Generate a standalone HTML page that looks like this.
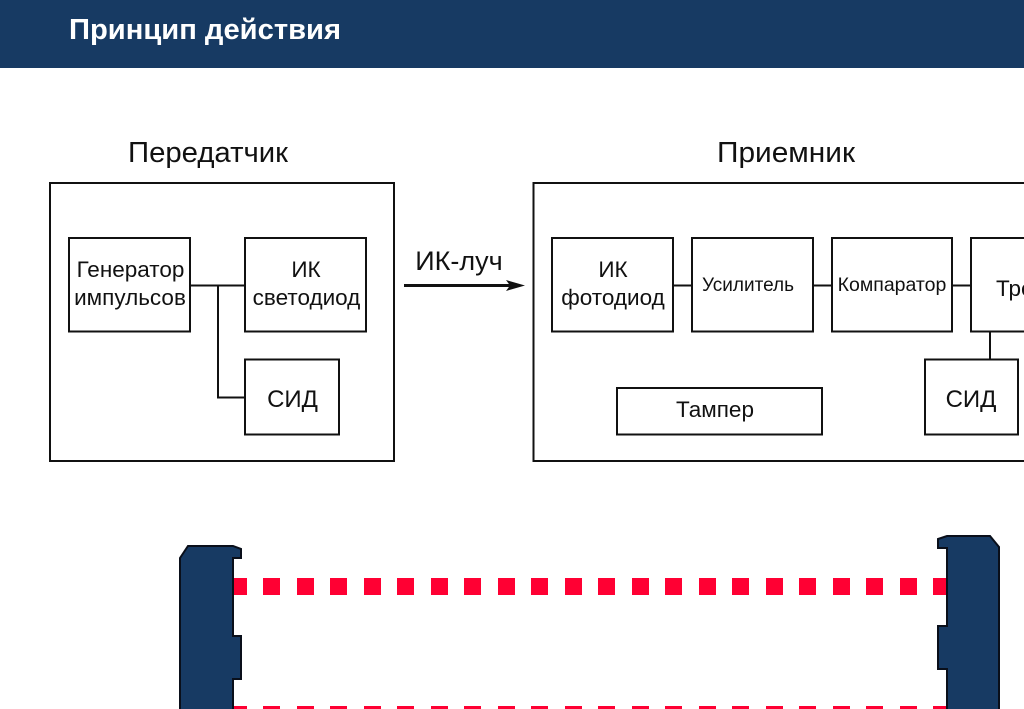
<!DOCTYPE html>
<html><head><meta charset="utf-8"><style>
html,body{margin:0;padding:0;background:#fff;width:1024px;height:709px;overflow:hidden}
svg{display:block}
text{font-family:"Liberation Sans",sans-serif;fill:#111;text-anchor:middle}
</style></head><body>
<svg width="1024" height="709" viewBox="0 0 1024 709" xmlns="http://www.w3.org/2000/svg">
<rect x="0" y="0" width="1024" height="68" fill="#173a63"/>
<text x="69" y="39" font-size="29" font-weight="bold" textLength="272" lengthAdjust="spacingAndGlyphs" style="fill:#fff;text-anchor:start">Принцип действия</text>

<text x="128" y="162" font-size="29" textLength="160" lengthAdjust="spacingAndGlyphs" style="text-anchor:start">Передатчик</text>
<text x="717" y="162" font-size="29" textLength="138" lengthAdjust="spacingAndGlyphs" style="text-anchor:start">Приемник</text>

<g fill="none" stroke="#111" stroke-width="2">
<rect x="50" y="183" width="344" height="278"/>
<rect x="533.500" y="183" width="500" height="278"/>
<rect x="69" y="238" width="121" height="93.500"/>
<rect x="245" y="238" width="121" height="93.500"/>
<rect x="245" y="359.500" width="94" height="75"/>
<rect x="552" y="238" width="121" height="93.500"/>
<rect x="692" y="238" width="121" height="93.500"/>
<rect x="832" y="238" width="120" height="93.500"/>
<rect x="971" y="238" width="100" height="93.500"/>
<rect x="925" y="359.500" width="93" height="75"/>
<rect x="617" y="388" width="205" height="46.500"/>
<path d="M190 285.500H245M218 285.500V397.500H245M673 285.500H692M813 285.500H832M952 285.500H971M990 331.500V359.500"/>
</g>

<path d="M404 285.500H514" stroke="#111" stroke-width="3" fill="none"/>
<path d="M525 285.500L506 280L510 285.500L506 291Z" fill="#111"/>
<text x="459" y="270" font-size="27">ИК-луч</text>

<g font-size="22.500">
<text x="130.500" y="277">Генератор</text>
<text x="130" y="305">импульсов</text>
<text x="306" y="277">ИК</text>
<text x="306.500" y="305">светодиод</text>
<text x="292.500" y="407" font-size="24">СИД</text>
<text x="613" y="277">ИК</text>
<text x="613" y="305">фотодиод</text>
<text x="971" y="407" font-size="24">СИД</text>
<text x="715" y="417">Тампер</text>
<text x="996" y="296" style="text-anchor:start">Тревога</text>
</g>
<text x="748" y="291" font-size="19">Усилитель</text>
<text x="892" y="291" font-size="19.500">Компаратор</text>

<g fill="#ff0033">
<path d="M233 578h14v17h-14zM933 578h14v17h-14z"/>
<path d="M233 706h14v3h-14zM933 706h14v3h-14z"/>
<path d="M263 578h17v17h-17zM297 578h17v17h-17zM330 578h17v17h-17zM364 578h17v17h-17zM397 578h17v17h-17zM431 578h17v17h-17zM464 578h17v17h-17zM498 578h17v17h-17zM531 578h17v17h-17zM565 578h17v17h-17zM598 578h17v17h-17zM632 578h17v17h-17zM665 578h17v17h-17zM699 578h17v17h-17zM732 578h17v17h-17zM766 578h17v17h-17zM799 578h17v17h-17zM833 578h17v17h-17zM866 578h17v17h-17zM900 578h17v17h-17z"/>
<path d="M263 706h17v3h-17zM297 706h17v3h-17zM330 706h17v3h-17zM364 706h17v3h-17zM397 706h17v3h-17zM431 706h17v3h-17zM464 706h17v3h-17zM498 706h17v3h-17zM531 706h17v3h-17zM565 706h17v3h-17zM598 706h17v3h-17zM632 706h17v3h-17zM665 706h17v3h-17zM699 706h17v3h-17zM732 706h17v3h-17zM766 706h17v3h-17zM799 706h17v3h-17zM833 706h17v3h-17zM866 706h17v3h-17zM900 706h17v3h-17z"/>
</g>

<path d="M180 712V558L188 546H233L241 549V558H233V636H241V679H233V712Z" fill="#173a63" stroke="#0a0f1a" stroke-width="2"/>
<path d="M999 712V547L990 536H947L938 539V548H947V626H938V669H947V712Z" fill="#173a63" stroke="#0a0f1a" stroke-width="2"/>
</svg>
</body></html>
